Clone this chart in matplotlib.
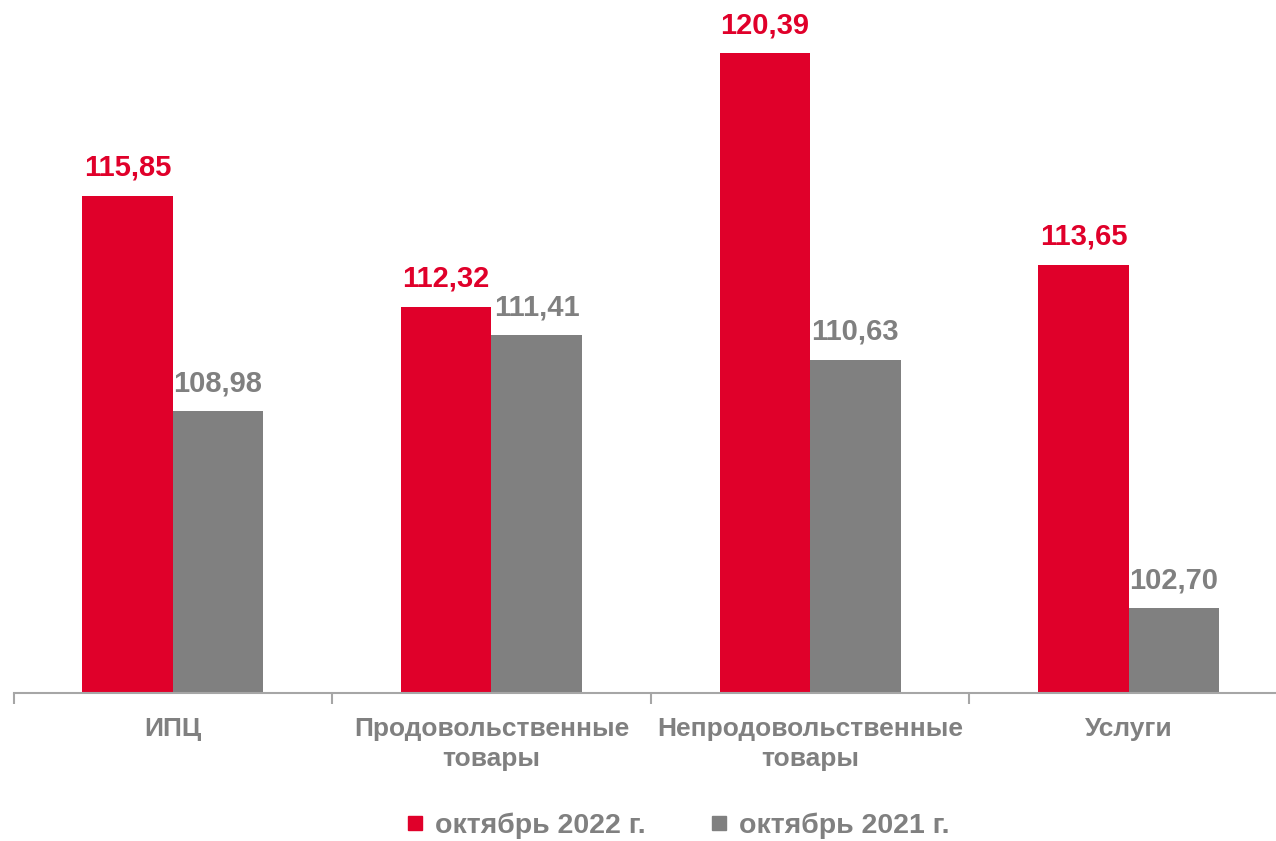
import matplotlib

matplotlib.use("Agg")
import matplotlib.pyplot as plt
from matplotlib.lines import Line2D

matplotlib.rcParams.update({
    "font.family": "sans-serif",
    "font.sans-serif": ["Liberation Sans", "Arial", "DejaVu Sans"],
    "font.weight": "bold",
})

RED = "#e0002a"
GRAY = "#808080"
AXIS = "#a6a6a6"

categories = ["ИПЦ", "Продовольственные\nтовары", "Непродовольственные\nтовары", "Услуги"]
oct_2022 = [115.85, 112.32, 120.39, 113.65]
oct_2021 = [108.98, 111.41, 110.63, 102.70]
series_names = ["октябрь 2022 г.", "октябрь 2021 г."]

fig = plt.figure(figsize=(12.76, 8.41), dpi=100)
ax = fig.add_axes([13.5 / 1276, 1 - 693 / 841, 1274.5 / 1276, 690 / 841])

w = 0.284
x = list(range(len(categories)))
b1 = ax.bar([i - w / 2 for i in x], oct_2022, width=w, color=RED)
b2 = ax.bar([i + w / 2 for i in x], oct_2021, width=w, color=GRAY)

for bars, vals, col in ((b1, oct_2022, RED), (b2, oct_2021, GRAY)):
    for rect, v in zip(bars, vals):
        ax.annotate(f"{v:.2f}".replace(".", ","),
                    (rect.get_x() + rect.get_width() / 2, v),
                    xytext=(0, 10), textcoords="offset points",
                    ha="center", va="bottom", fontsize=21, color=col,
                    fontweight="bold")

ax.set_ylim(100, 122)
ax.set_xlim(-0.5, len(categories) - 0.5)

for s in ("top", "right", "left"):
    ax.spines[s].set_visible(False)
ax.spines["bottom"].set_color(AXIS)
ax.spines["bottom"].set_linewidth(1.5)
ax.set_yticks([])

# boundaries get the tick marks, centres carry the labels
ax.set_xticks([i - 0.5 for i in range(len(categories) + 1)])
ax.set_xticklabels([])
ax.tick_params(axis="x", which="major", length=8, width=1.5, color=AXIS)
ax.set_xticks(x, minor=True)
ax.set_xticklabels(categories, minor=True, fontsize=19, color=GRAY,
                   fontweight="bold", linespacing=1.32)
ax.tick_params(axis="x", which="minor", length=0, pad=17)

handles = [Line2D([], [], marker="s", ls="", color=RED, markersize=9.5),
           Line2D([], [], marker="s", ls="", color=GRAY, markersize=9.5)]
fig.legend(handles, series_names, loc="center", bbox_to_anchor=(0.529, 1 - 826 / 841),
           ncol=2, frameon=False, labelcolor=GRAY,
           handletextpad=0.2, columnspacing=2.1, handlelength=1.0,
           prop={"weight": "bold", "size": 20.5})

fig.savefig("out.png", dpi=100)
